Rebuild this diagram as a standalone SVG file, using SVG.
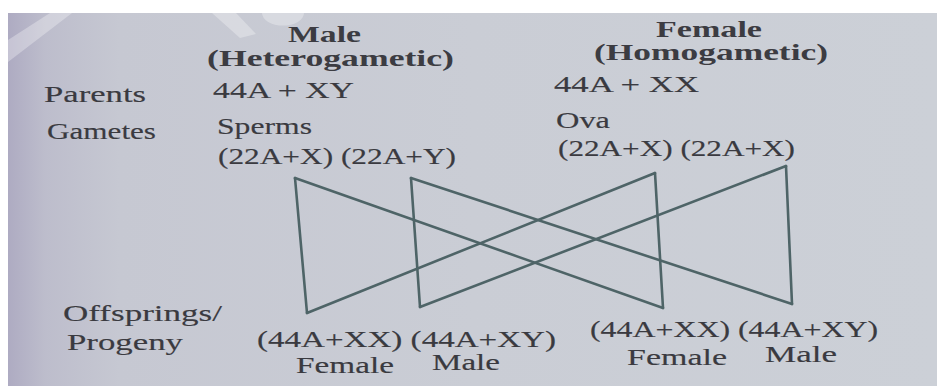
<svg xmlns="http://www.w3.org/2000/svg" width="937" height="386" viewBox="0 0 937 386">
  <defs>
    <linearGradient id="page" x1="0" y1="0" x2="1" y2="0">
      <stop offset="0" stop-color="#aeabc2"/>
      <stop offset="0.04" stop-color="#bdbdcc"/>
      <stop offset="0.12" stop-color="#c6c8d2"/>
      <stop offset="0.5" stop-color="#cacdd5"/>
      <stop offset="1" stop-color="#ccd0d7"/>
    </linearGradient>
    <style>
      .t { font-family: "Liberation Serif", "DejaVu Serif", serif; font-size: 23px; fill: #3a3a40; stroke: #3a3a40; stroke-width: 0.15; }
      .h { font-weight: bold; fill: #3c3c42; stroke: none; }
      .ln { stroke: #4e6467; stroke-width: 2.6; fill: none; stroke-linecap: round; stroke-linejoin: round; }
      .wm { fill: #ffffff; opacity: 0.3; }
    </style>
  </defs>

  <!-- background -->
  <rect x="0" y="0" width="937" height="386" fill="#ffffff"/>
  <rect x="8" y="13" width="929" height="373" fill="url(#page)"/>
  <!-- faint watermark fragments -->
  <polygon class="wm" points="8,40 8,62 72,13 50,13"/>
  <polygon class="wm" points="212,13 236,13 256,34 240,38"/>
  <path class="wm" d="M262,13 A20,12 0 0 0 304,13 Z"/>

  <!-- connectors -->
  <g id="connectors">
    <line class="ln" x1="295" y1="178" x2="307" y2="313"/>
    <line class="ln" x1="295" y1="178" x2="663" y2="308"/>
    <line class="ln" x1="411" y1="178" x2="420" y2="307"/>
    <line class="ln" x1="411" y1="178" x2="792" y2="304"/>
    <line class="ln" x1="655" y1="173" x2="663" y2="308"/>
    <line class="ln" x1="655" y1="173" x2="307" y2="313"/>
    <line class="ln" x1="786" y1="166" x2="792" y2="304"/>
    <line class="ln" x1="786" y1="166" x2="420" y2="307"/>
  </g>

  <!-- headings -->
  <g id="male-heading">
    <text class="t h" x="288" y="42" textLength="73" lengthAdjust="spacingAndGlyphs">Male</text>
    <text class="t h" x="207" y="66" textLength="247" lengthAdjust="spacingAndGlyphs">(Heterogametic)</text>
  </g>
  <g id="female-heading">
    <text class="t h" x="656" y="37" textLength="106" lengthAdjust="spacingAndGlyphs">Female</text>
    <text class="t h" x="594" y="60" textLength="234" lengthAdjust="spacingAndGlyphs">(Homogametic)</text>
  </g>

  <!-- row labels -->
  <g id="label-parents"><text class="t" x="44" y="102" textLength="102" lengthAdjust="spacingAndGlyphs">Parents</text></g>
  <g id="label-gametes"><text class="t" x="47" y="139" textLength="109" lengthAdjust="spacingAndGlyphs">Gametes</text></g>
  <g id="label-offspring">
    <text class="t" x="63" y="321" textLength="159" lengthAdjust="spacingAndGlyphs">Offsprings/</text>
    <text class="t" x="67" y="350" textLength="116" lengthAdjust="spacingAndGlyphs">Progeny</text>
  </g>

  <!-- parents -->
  <g id="parent-male"><text class="t" x="213" y="98" textLength="141" lengthAdjust="spacingAndGlyphs">44A + XY</text></g>
  <g id="parent-female"><text class="t" x="554" y="92" textLength="145" lengthAdjust="spacingAndGlyphs">44A + XX</text></g>

  <!-- gametes -->
  <g id="sperms">
    <text class="t" x="217" y="134" textLength="95" lengthAdjust="spacingAndGlyphs">Sperms</text>
    <text class="t" x="218" y="164" textLength="238" lengthAdjust="spacingAndGlyphs">(22A+X) (22A+Y)</text>
  </g>
  <g id="ova">
    <text class="t" x="556" y="128" textLength="54" lengthAdjust="spacingAndGlyphs">Ova</text>
    <text class="t" x="558" y="156" textLength="237" lengthAdjust="spacingAndGlyphs">(22A+X) (22A+X)</text>
  </g>

  <!-- offspring -->
  <g id="offspring-left">
    <text class="t" x="257" y="347" textLength="299" lengthAdjust="spacingAndGlyphs">(44A+XX) (44A+XY)</text>
    <text class="t" x="296" y="373" textLength="98" lengthAdjust="spacingAndGlyphs">Female</text>
    <text class="t" x="432" y="370" textLength="68" lengthAdjust="spacingAndGlyphs">Male</text>
  </g>
  <g id="offspring-right">
    <text class="t" x="590" y="337" textLength="288" lengthAdjust="spacingAndGlyphs">(44A+XX) (44A+XY)</text>
    <text class="t" x="627" y="365" textLength="100" lengthAdjust="spacingAndGlyphs">Female</text>
    <text class="t" x="765" y="362" textLength="72" lengthAdjust="spacingAndGlyphs">Male</text>
  </g>
</svg>
